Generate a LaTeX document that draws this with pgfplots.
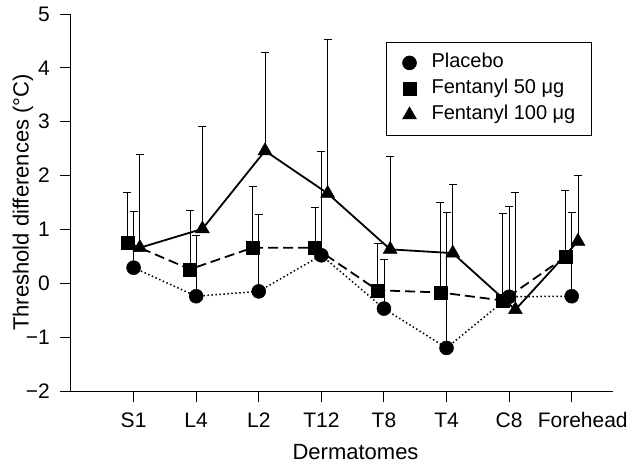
\documentclass[border=0pt]{standalone}
\usepackage{pgfplots}
\pgfplotsset{compat=1.18}
\usepackage{fontspec}
\setmainfont{Liberation Sans}
\pgfplotstableread{
x y e
1 0.29 1.05
2 -0.24 1.13
3 -0.15 1.42
4 0.52 1.93
5 -0.47 0.91
6 -1.20 2.52
7 -0.25 1.68
8 -0.24 1.56
}\placebo
\pgfplotstableread{
x y e
0.9 0.76 0.93
1.9 0.26 1.09
2.9 0.66 1.13
3.9 0.66 0.75
4.9 -0.13 0.87
5.9 -0.17 1.68
6.9 -0.32 1.61
7.9 0.49 1.23
}\fenA
\pgfplotstableread{
x y e
1.1 0.66 1.74
2.1 1.01 1.91
3.1 2.46 1.83
4.1 1.67 2.86
5.1 0.63 1.73
6.1 0.56 1.28
7.1 -0.49 2.17
8.1 0.78 1.23
}\fenB
\begin{document}
\begin{tikzpicture}
\begin{axis}[
 scale only axis, width=542pt, height=377pt,
 xmin=0, xmax=8.66, ymin=-2, ymax=5,
 axis lines=left, axis line style={-, line width=1pt},
 tick align=outside, major tick length=11pt, tick style={line width=1pt, black},
 xtick={1,...,8}, xticklabels={S1,L4,L2,T12,T8,T4,C8,\hspace*{22pt}Forehead},
 ytick={-2,...,5}, yticklabels={−2,−1,0,1,2,3,4,5},
 ticklabel style={font=\fontsize{21}{25}\selectfont},
 label style={font=\fontsize{22}{26}\selectfont},
 xticklabel style={text height=15pt, text depth=4.5pt, inner sep=0pt, anchor=north, yshift=-10pt},
 yticklabel style={inner sep=0pt, anchor=east, xshift=-10pt},
 xlabel={Dermatomes}, ylabel={Threshold differences (°C)},
 xlabel style={at={(axis description cs:0.525,-0.183)}, anchor=base},
 ylabel style={at={(axis description cs:-0.0886,0.5)}, anchor=center},
 legend style={at={(0.961,0.926)}, anchor=north east, draw=black, line width=1pt,
   font=\fontsize{20}{24}\selectfont, inner xsep=16pt, inner ysep=11pt,
   nodes={inner sep=0pt, text height=14.5pt, text depth=4.5pt},
   row sep=7pt, column sep=15pt},
 legend cell align=left,
 clip=false,
 error bars/error bar style={solid, line width=0.8pt, black},
 error bars/error mark options={solid, line width=0.8pt, black, mark size=4pt, rotate=90},
]
\addlegendimage{only marks, mark=*, mark size=7pt, black, mark options={line width=0.5pt}}
\addlegendentry{Placebo}
\addlegendimage{only marks, mark=square*, mark size=6.5pt, black, mark options={line width=0.5pt}}
\addlegendentry{Fentanyl 50 μg}
\addlegendimage{only marks, mark=triangle*, mark size=8pt, black, mark options={line width=0.5pt}}
\addlegendentry{Fentanyl 100 μg}

\addplot[forget plot, black, line width=1.5pt, dash pattern=on 1.5pt off 2.5pt, mark=*, mark size=7pt, mark options={solid, fill=black, line width=0.5pt},
  error bars/.cd, y dir=plus, y explicit] table[x=x, y=y, y error=e] {\placebo};
\addplot[forget plot, black, line width=1.8pt, dash pattern=on 10pt off 5pt, mark=square*, mark size=6.5pt, mark options={solid, fill=black, line width=0.5pt},
  error bars/.cd, y dir=plus, y explicit] table[x=x, y=y, y error=e] {\fenA};
\addplot[forget plot, black, line width=1.8pt, solid, mark=triangle*, mark size=8pt, mark options={solid, fill=black, line width=0.5pt},
  error bars/.cd, y dir=plus, y explicit] table[x=x, y=y, y error=e] {\fenB};
\end{axis}
\pgfresetboundingbox
\path (current axis.south west) ++(-71pt,-73pt) rectangle ++(629pt,464pt);
\end{tikzpicture}
\end{document}
